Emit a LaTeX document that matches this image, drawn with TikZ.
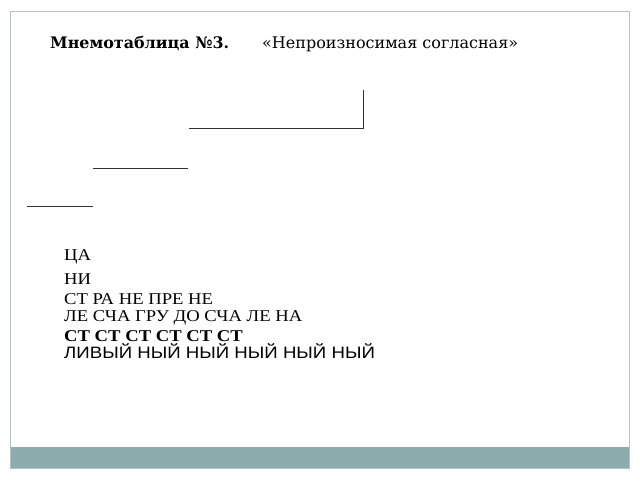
\documentclass[tikz,border=0pt]{standalone}
\usepackage{fontspec}
\setmainfont{Liberation Serif}[FakeStretch=1.13]
\newfontfamily\titlefont{DejaVu Serif}
\newfontfamily\sansfont{Liberation Sans}[FakeStretch=1.13]
\usetikzlibrary{positioning}
\definecolor{framegray}{HTML}{B4C4C4}
\definecolor{bandgray}{HTML}{8CADAD}

\begin{document}
\begin{tikzpicture}[x=1pt,y=-1pt,
	mnemo/.style={anchor=base west,inner sep=0pt,font=\fontsize{16.5}{20}\selectfont},
	stroke/.style={line width=0.8pt,black!80}]
	\useasboundingbox (0,0) rectangle (640,480);
		\draw [framegray,line width=1pt] (10,11) rectangle (629,468);
		\fill [bandgray] (10.5,447) rectangle (628.5,467.5);
		\node [anchor=base west,inner sep=0pt,font=\titlefont\bfseries\fontsize{15.9}{18}\selectfont] (title) at (50,48) {Мнемотаблица №3.};
		\node [anchor=base west,inner sep=0pt,font=\titlefont\fontsize{16}{18}\selectfont] (topic) at (262,48) {«Непроизносимая согласная»};
		\coordinate (s1) at (363,90);
		\coordinate (s2) at (363,128);
		\coordinate (s3) at (189,128);
		\coordinate (t1) at (188,168);
		\coordinate (t2) at (93,168);
		\coordinate (u1) at (93,206);
		\coordinate (u2) at (27,206);
		\draw [stroke] (s1) -- (s2) -- (s3);
		\draw [stroke] (t1) -- (t2);
		\draw [stroke] (u1) -- (u2);
		\node [mnemo] (ca) at (64,260) {ЦА};
		\node [mnemo] (ni) at (64,284) {НИ};
		\node [mnemo] (ra) at (64,304) {СТ РА НЕ ПРЕ НЕ};
		\node [mnemo] (le) at (64,321) {ЛЕ СЧА ГРУ ДО СЧА ЛЕ НА};
		\node [mnemo,font=\bfseries\fontsize{16.5}{20}\selectfont] (st) at (64,341) {СТ СТ СТ СТ СТ СТ};
		\node [mnemo,font=\sansfont\fontsize{16.5}{20}\selectfont] (nyj) at (64,358) {ЛИВЫЙ НЫЙ НЫЙ НЫЙ НЫЙ НЫЙ};
\end{tikzpicture}
\end{document}
